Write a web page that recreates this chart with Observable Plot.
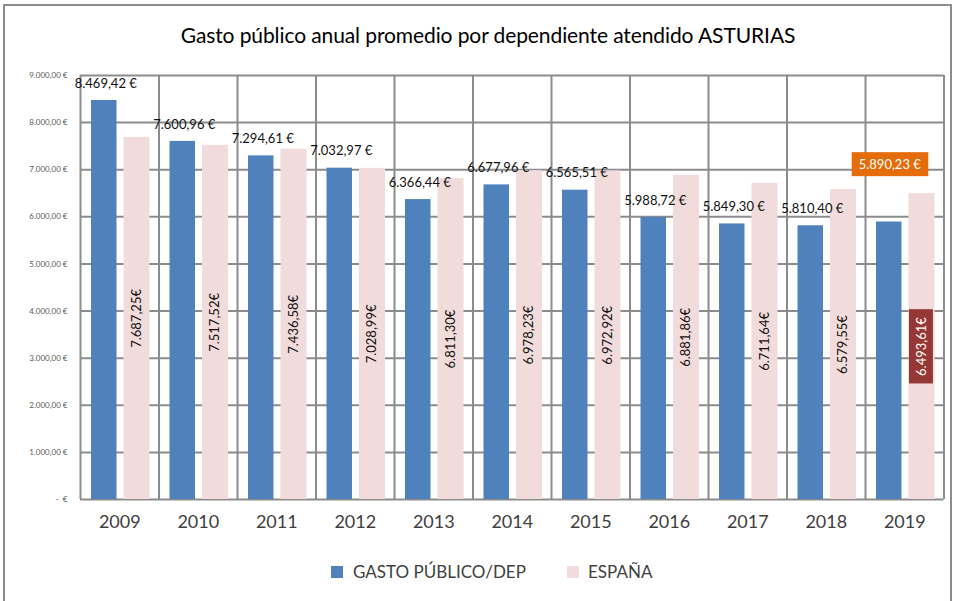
<!DOCTYPE html>
<html><head><meta charset="utf-8">
<script src="https://cdn.jsdelivr.net/npm/d3@7"></script>
<script src="https://cdn.jsdelivr.net/npm/@observablehq/plot@0.6"></script>
<style>
body{margin:0;background:#fff;font-family:Lato,sans-serif}
#wrap{position:relative;width:955px;height:601px;overflow:hidden;background:#fff}
#chart{position:absolute;left:0;top:0}
#border{position:absolute;left:3px;top:4px;width:949px;height:700px;border:2px solid #8c8c8c;box-sizing:border-box;pointer-events:none}
#title{position:absolute;left:0;width:976px;top:23px;text-align:center;font-size:21px;color:#000;line-height:24px;letter-spacing:-0.1px}
.leg{position:absolute;top:563px;font-size:17px;color:#404040;line-height:18px;white-space:nowrap}
.sw{position:absolute;top:566px;width:12px;height:12px}
</style></head><body>
<div id="wrap">
<div id="chart"></div>
<div id="title">Gasto público anual promedio por dependiente atendido ASTURIAS</div>
<div class="sw" style="left:331px;background:#4f81bd"></div><div class="leg" style="left:353px">GASTO PÚBLICO/DEP</div>
<div class="sw" style="left:567px;background:#f2dcdb"></div><div class="leg" style="left:588px">ESPAÑA</div>
<div id="border"></div>
</div>
<script>
const years = ["2009","2010","2011","2012","2013","2014","2015","2016","2017","2018","2019"];
const gasto = [8469.42, 7600.96, 7294.61, 7032.97, 6366.44, 6677.96, 6565.51, 5988.72, 5849.30, 5810.40, 5890.23];
const espana = [7687.25, 7517.52, 7436.58, 7028.99, 6811.30, 6978.23, 6972.92, 6881.86, 6711.64, 6579.55, 6493.61];
const yTicks = [0, 1000, 2000, 3000, 4000, 5000, 6000, 7000, 8000, 9000];
const yTickLabels = ["-  €", "1.000,00 €", "2.000,00 €", "3.000,00 €", "4.000,00 €", "5.000,00 €", "6.000,00 €", "7.000,00 €", "8.000,00 €", "9.000,00 €"];

const loc = d3.formatLocale({decimal: ",", thousands: ".", grouping: [3], currency: ["", "€"]});
const fmt = loc.format(",.2f");
const rows = years.map((year, i) => ({i, year, gasto: gasto[i], espana: espana[i]}));
const last = rows.length - 1;
const normal = rows.filter(d => d.i !== last);
const special = rows.filter(d => d.i === last);
const bounds = d3.range(years.length + 1);
const centers = years.map((_, i) => i + 0.5);
const blueLabel = d => fmt(d.gasto) + " €";
const pinkLabel = d => fmt(d.espana) + "€";

const BLUE = "#4f81bd", PINK = "#f2dcdb", GRID = "#8c8c8c";

const chart = Plot.plot({
  width: 955, height: 601,
  marginLeft: 80, marginRight: 11.5, marginTop: 75, marginBottom: 102,
  x: {domain: [0, years.length]},
  y: {domain: [0, 9000]},
  style: {fontFamily: "Lato, sans-serif", background: "transparent", overflow: "visible"},
  marks: [
    Plot.ruleY(yTicks, {y: d => d, stroke: GRID, strokeWidth: 2}),
    Plot.ruleX(bounds, {x: d => d, y1: 0, y2: 9000, stroke: GRID, strokeWidth: 2}),
    Plot.rectY(rows, {x1: "i", x2: d => d.i + 1, y: "gasto", fill: BLUE, insetLeft: 11, insetRight: 42}),
    Plot.rectY(rows, {x1: "i", x2: d => d.i + 1, y: "espana", fill: PINK, insetLeft: 43.5, insetRight: 9}),
    Plot.text(normal, {x: d => d.i + 0.5, y: "gasto", dx: -14, dy: -17, text: blueLabel, fontSize: 13, fill: "#111"}),
    Plot.text(normal, {x: d => d.i + 0.5, y: d => d.espana / 2, dx: 17, rotate: -90, text: pinkLabel, fontSize: 13, fill: "#111"}),
    Plot.text(special, {x: d => d.i + 0.5, y: "gasto", dx: -15, dy: -57, text: blueLabel, fontSize: 13, fill: "#ffffff"}),
    Plot.text(special, {x: d => d.i + 0.5, y: d => d.espana / 2, dx: 17, rotate: -90, text: pinkLabel, fontSize: 13, fill: "#ffffff"}),
    Plot.axisY(yTicks, {tickFormat: d => yTickLabels[yTicks.indexOf(d)], tickSize: 0, tickPadding: 13, fontSize: 8, fill: "#595959", label: null}),
    Plot.axisX(centers, {tickFormat: d => years[Math.floor(d)], tickSize: 0, tickPadding: 16, fontSize: 18, fill: "#404040", label: null})
  ]
});
document.getElementById("chart").appendChild(chart);

function addBox(str, fill, padX, padY) {
  Array.from(chart.querySelectorAll("text")).filter(t => t.textContent === str && t.closest("g[fill]") && /fff/i.test(t.closest("g[fill]").getAttribute("fill") || "")).forEach(t => {
    const b = t.getBBox();
    const r = document.createElementNS("http://www.w3.org/2000/svg", "rect");
    r.setAttribute("x", b.x - padX);
    r.setAttribute("y", b.y - padY);
    r.setAttribute("width", b.width + 2 * padX);
    r.setAttribute("height", b.height + 2 * padY);
    r.setAttribute("fill", fill);
    const tr = t.getAttribute("transform");
    if (tr) r.setAttribute("transform", tr);
    t.parentNode.insertBefore(r, t);
  });
}
special.forEach(d => {
  addBox(blueLabel(d), "#e46c0a", 7, 4);
  addBox(pinkLabel(d), "#953735", 7.5, 4);
});
</script>
</body></html>
